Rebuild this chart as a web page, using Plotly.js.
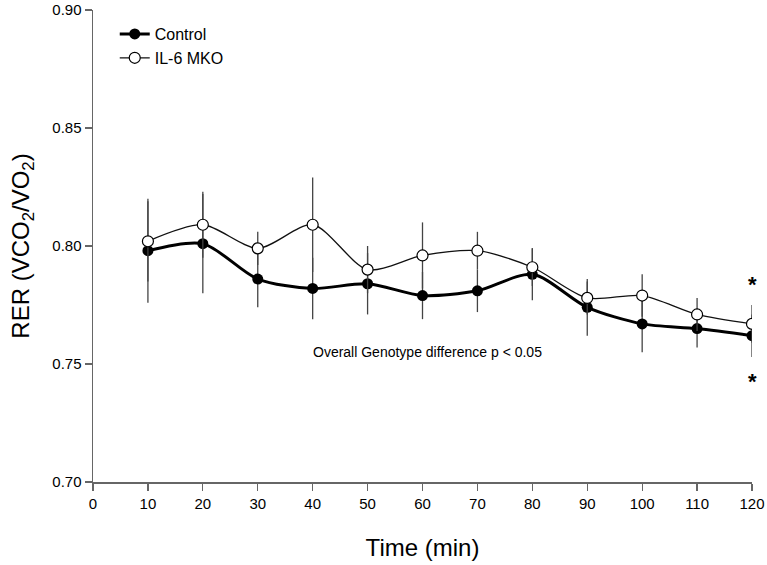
<!DOCTYPE html>
<html>
<head>
<meta charset="utf-8">
<script src="https://cdn.plot.ly/plotly-3.0.1.min.js"></script>
<style>
  body { margin: 0; background: #fff; }
  #grafico { width: 767px; height: 565px; }
</style>
</head>
<body>
<div id="grafico"></div>
<script>
// tempo (min) e RER
var tempos = [10, 20, 30, 40, 50, 60, 70, 80, 90, 100, 110, 120];
var rerControle = [0.798, 0.801, 0.786, 0.782, 0.784, 0.779, 0.781, 0.788, 0.774, 0.767, 0.765, 0.762];
var erroControle = [0.022, 0.021, 0.012, 0.013, 0.013, 0.010, 0.009, 0.011, 0.012, 0.012, 0.008, 0.009];
var rerMko = [0.802, 0.809, 0.799, 0.809, 0.790, 0.796, 0.798, 0.791, 0.778, 0.779, 0.771, 0.767];
var erroMko = [0.017, 0.014, 0.007, 0.020, 0.010, 0.014, 0.008, 0.008, 0.007, 0.009, 0.007, 0.008];
var ticksX = [0, 10, 20, 30, 40, 50, 60, 70, 80, 90, 100, 110, 120];
var ticksY = [0.70, 0.75, 0.80, 0.85, 0.90];

var fonte = 'Liberation Sans, Arial, sans-serif';

var dados = [
    {
        x: tempos, y: rerControle, name: 'Control',
        mode: 'lines+markers',
        line: {color: '#000', width: 3, shape: 'spline', smoothing: 0.8},
        marker: {color: '#000', size: 11, symbol: 'circle'},
        error_y: {type: 'data', array: erroControle, visible: true, color: '#444', thickness: 1.3, width: 0}
    },
    {
        x: tempos, y: rerMko, name: 'IL-6 MKO',
        mode: 'lines+markers',
        line: {color: '#111', width: 1.3, shape: 'spline', smoothing: 0.8},
        marker: {color: '#fff', size: 11, symbol: 'circle', line: {color: '#000', width: 1.2}},
        error_y: {type: 'data', array: erroMko, visible: true, color: '#444', thickness: 1.3, width: 0}
    }
];

var layout = {
    width: 767, height: 565,
    margin: {l: 93, r: 15, t: 10, b: 83},
    paper_bgcolor: '#fff', plot_bgcolor: '#fff',
    font: {family: fonte, color: '#000', size: 14},
    showlegend: true,
    legend: {x: 0.033, y: 0.985, xanchor: 'left', yanchor: 'top', font: {size: 16}, bgcolor: 'rgba(0,0,0,0)', tracegroupgap: 0},
    xaxis: {
        title: {text: 'Time (min)', font: {size: 24}, standoff: 28},
        range: [0, 120], tickvals: ticksX, ticktext: ticksX.map(String),
        showgrid: false, zeroline: false,
        showline: true, linecolor: '#666', linewidth: 1.5,
        ticks: 'outside', ticklen: 7, tickcolor: '#666', tickwidth: 1.2,
        tickfont: {size: 15}
    },
    yaxis: {
        title: {text: 'RER (VCO<sub>2</sub>/VO<sub>2</sub>)', font: {size: 24}, standoff: 16},
        range: [0.70, 0.90], tickvals: ticksY, ticktext: ticksY.map(function (v) { return v.toFixed(2); }),
        showgrid: false, zeroline: false,
        showline: true, linecolor: '#666', linewidth: 1.5,
        ticks: 'outside', ticklen: 7, tickcolor: '#666', tickwidth: 1.2,
        tickfont: {size: 15}
    },
    annotations: [
        {x: 61, y: 0.755, xref: 'x', yref: 'y', text: 'Overall Genotype difference p < 0.05', showarrow: false, font: {size: 14}},
        {x: 120, y: 0.7835, xref: 'x', yref: 'y', text: '<b>*</b>', showarrow: false, font: {size: 22}},
        {x: 120, y: 0.7425, xref: 'x', yref: 'y', text: '<b>*</b>', showarrow: false, font: {size: 22}}
    ]
};

Plotly.newPlot('grafico', dados, layout, {displayModeBar: false, staticPlot: true});
</script>
</body>
</html>
